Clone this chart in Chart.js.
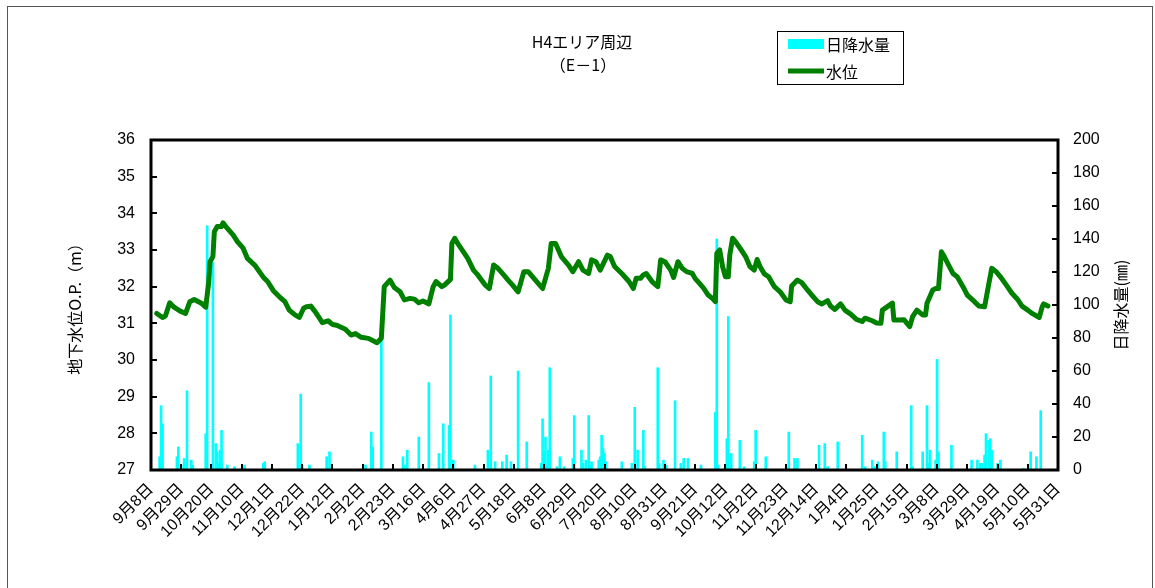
<!DOCTYPE html>
<html><head><meta charset="utf-8">
<script src="https://cdn.jsdelivr.net/npm/chart.js@4.4.1/dist/chart.umd.min.js"></script>
<style>html,body{margin:0;padding:0;background:#fff;}#wrap{position:relative;width:1155px;height:588px;}</style>
</head><body><div id="wrap"><canvas id="c" width="1155" height="588"></canvas></div>
<script>
// ---- data ----
const titleLines = ['H4エリア周辺', '（E－1）'];
const startYMD = [2009, 9, 8];   // first day on the axis (9月8日)
const tickStepDays = 21;
const totalDays = 630;
const levelTicks = [27, 36, 1];
const rainTicks = [0, 200, 20];

const levelDays = [4,8,10,13,16,20,24,27,30,35,38,40,41,43,44,46,49,50,52,57,60,64,67,72,78,81,85,89,93,96,100,103,106,108,111,114,117,119,123,126,129,135,139,142,146,151,157,160,162,166,169,173,176,180,183,186,189,193,196,198,202,204,208,209,211,213,217,220,224,227,232,235,238,241,245,248,251,255,259,262,267,272,276,278,281,285,290,293,297,300,304,306,309,312,317,319,322,327,332,335,337,340,342,344,348,352,354,357,361,363,366,369,372,376,378,381,384,387,390,392,393,395,397,399,401,402,404,406,410,413,416,419,421,423,426,429,433,437,441,444,445,449,452,456,459,463,466,470,472,475,479,482,486,490,494,496,501,504,507,508,512,515,516,520,523,527,529,532,536,538,539,543,545,547,549,551,554,557,560,564,567,572,575,579,582,584,587,590,594,598,602,605,609,612,617,619,620,623];
const levelValues = [31.27,31.16,31.2,31.56,31.44,31.34,31.27,31.59,31.65,31.55,31.44,32.09,32.68,32.82,33.5,33.64,33.64,33.74,33.64,33.41,33.23,33.05,32.77,32.59,32.26,32.14,31.89,31.73,31.59,31.36,31.23,31.16,31.41,31.45,31.47,31.32,31.14,31.02,31.07,30.97,30.95,30.84,30.68,30.72,30.62,30.59,30.47,30.59,32.0,32.18,31.98,31.86,31.64,31.68,31.66,31.56,31.61,31.53,32.0,32.14,32.0,32.05,32.2,33.18,33.32,33.18,32.95,32.77,32.45,32.32,32.05,31.95,32.59,32.5,32.32,32.18,32.05,31.86,32.41,32.41,32.18,31.95,32.5,33.18,33.18,32.82,32.59,32.41,32.68,32.45,32.36,32.73,32.68,32.45,32.86,32.82,32.55,32.36,32.14,31.95,32.23,32.23,32.32,32.36,32.14,32.0,32.73,32.68,32.45,32.25,32.68,32.5,32.41,32.36,32.22,32.09,31.95,31.77,31.68,31.59,32.91,33.0,32.55,32.27,32.27,32.86,33.32,33.23,33.0,32.82,32.55,32.45,32.74,32.55,32.35,32.27,32.0,31.86,31.64,31.59,32.02,32.18,32.11,31.91,31.77,31.59,31.53,31.62,31.47,31.38,31.53,31.36,31.25,31.11,31.05,31.14,31.07,31.01,31.0,31.36,31.47,31.55,31.09,31.09,31.1,30.91,31.18,31.36,31.23,31.23,31.55,31.91,31.95,31.95,32.95,32.82,32.59,32.36,32.27,32.0,31.77,31.59,31.47,31.45,32.09,32.5,32.41,32.27,32.05,31.82,31.65,31.47,31.36,31.27,31.16,31.45,31.53,31.47];

const rainDays = [6,7,8,18,19,21,23,25,28,29,38,39,43,45,46,47,48,49,53,58,65,78,79,102,104,105,110,122,124,149,153,154,160,175,176,178,186,193,200,203,207,208,210,225,234,236,239,244,247,250,255,261,271,272,273,274,275,276,277,282,284,287,293,294,299,300,302,304,305,306,311,312,313,314,315,316,327,334,336,338,342,343,352,353,356,358,364,368,370,373,382,392,393,394,400,401,403,409,412,419,420,427,443,447,449,464,468,470,477,494,496,501,503,505,509,510,518,528,529,536,539,540,541,545,546,547,556,570,574,576,577,579,580,582,583,584,588,590,606,611,615,618];
const rainValues = [8,39,28,8,14,3,7,48,6,3,22,148,126,16,11,4,12,24,3,2,3,4,5,16,46,3,3,8,11,3,23,14,79,8,3,12,20,53,10,28,27,94,6,3,12,57,5,5,9,5,60,17,4,31,11,20,3,12,62,2,8,2,7,33,12,4,6,33,3,5,6,8,21,13,10,5,5,4,38,12,24,2,62,4,6,3,42,4,7,7,3,35,140,3,19,93,10,18,2,5,24,8,23,7,7,15,16,2,17,21,2,6,2,5,23,5,11,39,2,11,39,4,12,6,67,11,15,6,6,4,4,9,22,18,19,12,4,6,1,11,8,36];

// ---- helpers ----
const FF = "'Liberation Sans','Noto Sans CJK JP',sans-serif";
const JF = "'Noto Sans CJK JP',sans-serif";
function dayLabel(d) {
  const dt = new Date(Date.UTC(startYMD[0], startYMD[1] - 1, startYMD[2] + d));
  return (dt.getUTCMonth() + 1) + '月' + dt.getUTCDate() + '日';
}
const levelPoints = levelDays.map((d, i) => ({x: d, y: levelValues[i]}));
const rainPoints = rainDays.map((d, i) => ({x: d, y: rainValues[i]}));

const decor = {
  id: 'decor',
  afterDatasetsDraw(chart) {
    const {ctx, chartArea: a, scales} = chart;
    ctx.save();
    ctx.strokeStyle = '#000';
    ctx.lineWidth = 2;
    ctx.beginPath();
    scales.y.ticks.forEach(t => { const p = Math.round(scales.y.getPixelForValue(t.value)); ctx.moveTo(a.left, p); ctx.lineTo(a.left + 6, p); });
    scales.y1.ticks.forEach(t => { const p = Math.round(scales.y1.getPixelForValue(t.value)); ctx.moveTo(a.right, p); ctx.lineTo(a.right - 6, p); });
    scales.x.ticks.forEach(t => { const p = Math.round(scales.x.getPixelForValue(t.value)); ctx.moveTo(p, a.bottom); ctx.lineTo(p, a.bottom - 6); });
    ctx.stroke();
    ctx.lineWidth = 3;
    ctx.strokeRect(a.left, a.top, a.right - a.left, a.bottom - a.top);
    ctx.restore();
  },
  afterDraw(chart) {
    const {ctx, chartArea: a} = chart;
    ctx.save();
    // outer frame
    ctx.strokeStyle = '#555';
    ctx.lineWidth = 1;
    ctx.strokeRect(7.5, 6.5, 1145, 620);
    // title
    ctx.fillStyle = '#000';
    ctx.textAlign = 'center';
    ctx.textBaseline = 'middle';
    ctx.font = '16px ' + JF;
    ctx.fillText(titleLines[0], 582, 42);
    ctx.fillText(titleLines[1], 583, 65);
    // legend
    const ds = chart.data.datasets;
    ctx.strokeStyle = '#000';
    ctx.strokeRect(777.5, 31.5, 126, 53);
    ctx.fillStyle = ds[1].backgroundColor;
    ctx.fillRect(788, 39, 36, 10);
    ctx.strokeStyle = ds[0].borderColor;
    ctx.lineWidth = 5;
    ctx.beginPath(); ctx.moveTo(788, 71); ctx.lineTo(824, 71); ctx.stroke();
    ctx.fillStyle = '#000';
    ctx.textAlign = 'left';
    ctx.font = '16px ' + JF;
    ctx.fillText(ds[1].label, 826, 45);
    ctx.fillText(ds[0].label, 826, 72);
    // right axis title (reads bottom to top)
    ctx.translate(1121, (a.top + a.bottom) / 2);
    ctx.rotate(-Math.PI / 2);
    ctx.textAlign = 'center';
    ctx.font = '16px ' + JF;
    ctx.fillText(chart.options.scales.y1.title.text, 0, 0);
    ctx.restore();
  }
};

new Chart(document.getElementById('c'), {
  type: 'bar',
  data: {
    datasets: [
      {type: 'line', label: '水位', data: levelPoints, yAxisID: 'y', borderColor: '#008000', borderWidth: 5,
       pointRadius: 0, tension: 0, fill: false, order: 0, borderJoinStyle: 'round', borderCapStyle: 'round'},
      {type: 'bar', label: '日降水量', data: rainPoints, yAxisID: 'y1', backgroundColor: '#00FFFF',
       barThickness: 2, grouped: false, order: 1}
    ]
  },
  options: {
    responsive: false,
    animation: false,
    events: [],
    layout: {padding: {top: 140, left: 0, right: 0, bottom: 0}},
    plugins: {legend: {display: false}, tooltip: {enabled: false}, title: {display: false}},
    scales: {
      x: {
        type: 'linear', min: 0, max: totalDays, offset: false,
        grid: {display: false, drawTicks: false},
        border: {display: false},
        ticks: {stepSize: tickStepDays, maxTicksLimit: 100, autoSkip: false, minRotation: 45, maxRotation: 45,
                padding: 10, color: '#000', font: {family: FF, size: 16},
                callback: v => dayLabel(v)},
        afterFit: s => { s.height = 118; }
      },
      y: {
        position: 'left', min: levelTicks[0], max: levelTicks[1],
        grid: {display: false, drawTicks: false}, border: {display: false},
        ticks: {stepSize: levelTicks[2], padding: 16, color: '#000', font: {family: FF, size: 16}},
        title: {display: true, text: '地下水位O.P.（m）', color: '#000', font: {family: JF, size: 16}, padding: {top: 65, bottom: 0}},
        afterFit: s => { s.width = 151; }
      },
      y1: {
        position: 'right', min: rainTicks[0], max: rainTicks[1],
        grid: {display: false, drawTicks: false}, border: {display: false},
        ticks: {stepSize: rainTicks[2], padding: 15, color: '#000', font: {family: FF, size: 16}},
        title: {display: false, text: '日降水量(㎜)'},
        afterFit: s => { s.width = 97; }
      }
    }
  },
  plugins: [decor]
});
</script></body></html>
